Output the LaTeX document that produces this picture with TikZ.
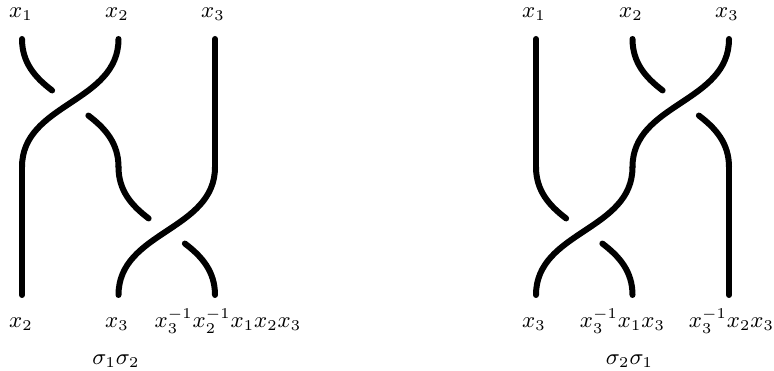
\documentclass[tikz,border=0pt]{standalone}
\begin{document}
\begin{tikzpicture}[x=0.4pt,y=-0.4pt,
  strand/.style={line width=2.4pt,line cap=round},
  lab/.style={anchor=base,inner sep=0pt,font=\fontsize{9.1}{11}\selectfont}]
\useasboundingbox (0,0) rectangle (774,371);
% crossing: left strand passes under, right strand passes over (from top-right to bottom-left)
\newcommand{\brcross}[2]{%
  \begin{scope}[shift={(#1,#2)},x=38.6pt,y=-51.2pt]
    \draw[strand] (1,0) .. controls (1,0.5) and (0,0.5) .. (0,1);
    \draw[strand] (0,0) .. controls (0,0.186) and (0.1384,0.3028) .. (0.3122,0.4019);
    \draw[strand] (0.6878,0.5981) .. controls (0.8616,0.6972) and (1,0.814) .. (1,1);
  \end{scope}}
% left braid: sigma1 sigma2
\brcross{22}{39}
\brcross{118.5}{167}
\coordinate (a3t) at (215,39); \coordinate (a3m) at (215,167);
\coordinate (a1m) at (22,167); \coordinate (a1b) at (22,295);
\draw[strand] (a3t) -- (a3m);
\draw[strand] (a1m) -- (a1b);
% right braid: sigma2 sigma1
\brcross{632.5}{39}
\brcross{536}{167}
\coordinate (b1t) at (536,39); \coordinate (b1m) at (536,167);
\coordinate (b3m) at (729,167); \coordinate (b3b) at (729,295);
\draw[strand] (b1t) -- (b1m);
\draw[strand] (b3m) -- (b3b);
% labels left
\node[lab] (lt1) at (21,18) {$x_1$};
\node[lab] (lt2) at (117,18) {$x_2$};
\node[lab] (lt3) at (213,18) {$x_3$};
\node[lab] (lb1) at (21,328) {$x_2$};
\node[lab] (lb2) at (117,328) {$x_3$};
\node[lab] (lb3) at (228,328) {$x_3^{-1}x_2^{-1}x_1x_2x_3$};
\node[lab] (ls) at (116,365) {$\sigma_1\sigma_2$};
% labels right
\node[lab] (rt1) at (534,18) {$x_1$};
\node[lab] (rt2) at (631,18) {$x_2$};
\node[lab] (rt3) at (727,18) {$x_3$};
\node[lab] (rb1) at (534,328) {$x_3$};
\node[lab] (rb2) at (622.5,328) {$x_3^{-1}x_1x_3$};
\node[lab] (rb3) at (731.5,328) {$x_3^{-1}x_2x_3$};
\node[lab] (rs) at (629.5,365) {$\sigma_2\sigma_1$};
\end{tikzpicture}
\end{document}
